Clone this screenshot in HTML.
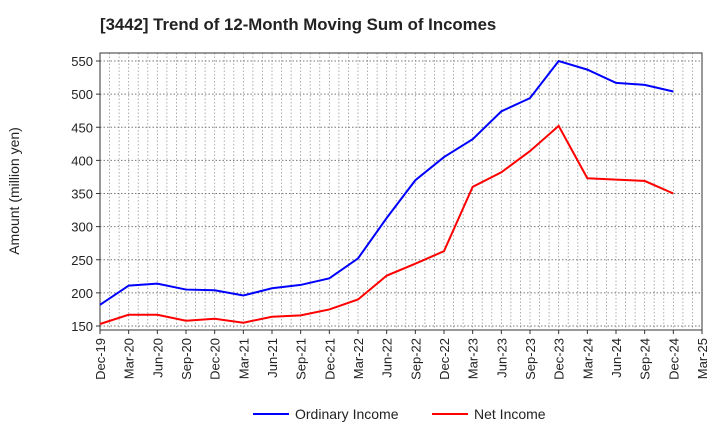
<!DOCTYPE html>
<html><head><meta charset="utf-8"><style>
body{margin:0;background:#fff;font-family:"Liberation Sans",sans-serif;}
</style></head><body>
<svg id="c" width="720" height="440" xmlns="http://www.w3.org/2000/svg"></svg>
<script>
const categories=["Dec-19","Mar-20","Jun-20","Sep-20","Dec-20","Mar-21","Jun-21","Sep-21","Dec-21","Mar-22","Jun-22","Sep-22","Dec-22","Mar-23","Jun-23","Sep-23","Dec-23","Mar-24","Jun-24","Sep-24","Dec-24","Mar-25"];
const ordinaryIncome=[182,211,214,205,204,196,207,212,222,252,313,370,405,432,474,494,550,537,517,514,504];
const netIncome=[153,167,167,158,161,155,164,166,175,190,226,244,263,360,382,414,452,373,371,369,350];
const yTicks=[150,200,250,300,350,400,450,500,550];
const NS="http://www.w3.org/2000/svg";
const svg=document.getElementById('c');
const L=100,R=702,T=53,B=330;
const x=i=>L+(R-L)*i/(categories.length-1);
const y=v=>326-(v-150)*(326-61)/400;
function mk(t,a,p){const e=document.createElementNS(NS,t);for(const k in a)e.setAttribute(k,a[k]);(p||svg).appendChild(e);return e;}
let t=mk('text',{x:100,y:30,'font-size':16.8,'font-weight':'bold',fill:'#222'});t.textContent="[3442]  Trend of 12-Month Moving Sum of Incomes";

for(let m=1;m<(categories.length-1)*3;m++){const gx=L+(R-L)*m/((categories.length-1)*3);
 const g=mk('line',{x1:gx,x2:gx,y1:T,y2:B,stroke:'#999','stroke-width':0.8,'stroke-dasharray':'1.5,2'});
 }
yTicks.forEach(v=>{const g=mk('line',{x1:L,x2:R,y1:y(v),y2:y(v),stroke:'#777','stroke-width':0.9,'stroke-dasharray':'1.5,2'});
 
 mk('line',{x1:L-4,x2:L,y1:y(v),y2:y(v),stroke:'#333'});
 const lb=mk('text',{x:L-7,y:y(v)+5,'font-size':13,'text-anchor':'end',fill:'#222'});lb.textContent=v;
 });
categories.forEach((c,i)=>{mk('line',{x1:x(i),x2:x(i),y1:B,y2:B+4,stroke:'#333'});
 const lb=mk('text',{transform:`translate(${x(i)+5},${B+8}) rotate(-90)`,'font-size':13,'text-anchor':'end',fill:'#222'});lb.textContent=c;
 });
const box=mk('rect',{x:L,y:T,width:R-L,height:B-T,fill:'none',stroke:'#333','stroke-width':1});

const yt=mk('text',{transform:'translate(19,191) rotate(-90)','font-size':14,'text-anchor':'middle',fill:'#222'});yt.textContent="Amount (million yen)";

function line(d,col,name){const p=mk('polyline',{points:d.map((v,i)=>x(i)+','+y(v)).join(' '),fill:'none',stroke:col,'stroke-width':2});
 }
line(ordinaryIncome,'#0000ff','ordinary-income-line');
line(netIncome,'#ff0000','net-income-line');
function leg(x0,col,txt,name){const g=mk('g',{});
 mk('line',{x1:x0,x2:x0+36,y1:414,y2:414,stroke:col,'stroke-width':2},g);
 const tx=mk('text',{x:x0+42,y:419,'font-size':14,fill:'#222'},g);tx.textContent=txt;}
leg(253,'#0000ff','Ordinary Income','legend-ordinary-income');
leg(432,'#ff0000','Net Income','legend-net-income');
</script>
</body></html>
